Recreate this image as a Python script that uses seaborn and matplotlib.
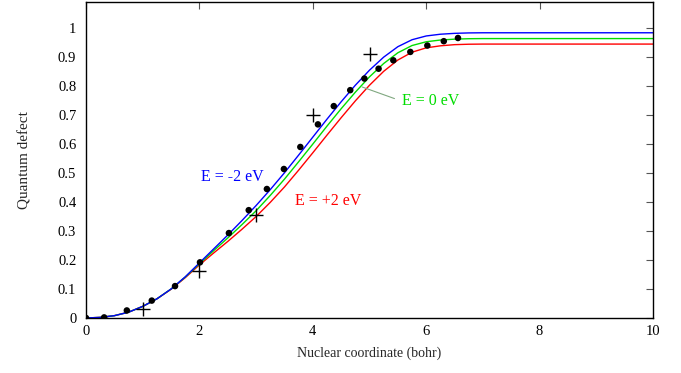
import matplotlib
matplotlib.use("Agg")
import matplotlib.pyplot as plt
import seaborn as sns
import pandas as pd

# ---- data ----
curve_x = [0, 0.25, 0.5, 0.75, 1.0, 1.25, 1.5, 1.75, 2.0, 2.25, 2.5, 2.75, 3.0,
           3.25, 3.5, 3.75, 4.0, 4.25, 4.5, 4.75, 5.0, 5.25, 5.5, 5.75, 6.0,
           6.25, 6.5, 6.75, 7.0, 8.0, 9.0, 10.0]
blue_y = [0, 0.002, 0.008, 0.020, 0.040, 0.066, 0.100, 0.142, 0.190, 0.238, 0.286,
          0.336, 0.388, 0.443, 0.501, 0.562, 0.624, 0.686, 0.746, 0.803, 0.855,
          0.900, 0.936, 0.960, 0.973, 0.979, 0.982, 0.9835, 0.984, 0.984, 0.984, 0.984]
green_y = [0, 0.002, 0.008, 0.020, 0.040, 0.066, 0.100, 0.141, 0.187, 0.232, 0.276,
           0.322, 0.370, 0.423, 0.479, 0.539, 0.600, 0.662, 0.722, 0.779, 0.832,
           0.878, 0.915, 0.940, 0.953, 0.959, 0.962, 0.9635, 0.964, 0.964, 0.964, 0.964]
red_y = [0, 0.002, 0.008, 0.020, 0.040, 0.066, 0.099, 0.139, 0.183, 0.224, 0.264,
         0.306, 0.350, 0.399, 0.452, 0.510, 0.570, 0.631, 0.691, 0.749, 0.803,
         0.851, 0.890, 0.917, 0.932, 0.939, 0.943, 0.9445, 0.945, 0.945, 0.945, 0.945]

dots_x = [0, 0.32, 0.72, 1.16, 1.57, 2.01, 2.52, 2.87, 3.19, 3.49, 3.78, 4.09,
          4.37, 4.66, 4.91, 5.16, 5.42, 5.72, 6.02, 6.31, 6.56]
dots_y = [0, 0.002, 0.026, 0.06, 0.11, 0.192, 0.293, 0.372, 0.445, 0.514, 0.59,
          0.668, 0.731, 0.786, 0.826, 0.86, 0.889, 0.918, 0.94, 0.955, 0.966]

cross_x = [1, 2, 3, 4, 5]
cross_y = [0.03, 0.163, 0.355, 0.70, 0.912]

xticks = [0, 2, 4, 6, 8, 10]
yticks = [0, 0.1, 0.2, 0.3, 0.4, 0.5, 0.6, 0.7, 0.8, 0.9, 1]
ytick_labels = ["0", "0.1", "0.2", "0.3", "0.4", "0.5", "0.6", "0.7", "0.8", "0.9", "1"]

BLUE = "#0000ff"
GREEN = "#00dd00"
RED = "#ff0000"

sns.set_theme(style="white")
plt.rcParams["font.family"] = ["Liberation Serif", "DejaVu Serif"]

fig = plt.figure(figsize=(6.81, 3.73), dpi=100)
ax = fig.add_axes([0.1263, 0.1475, 0.8326, 0.847])

df = pd.DataFrame({"x": curve_x * 3,
                   "y": blue_y + green_y + red_y,
                   "E": ["-2"] * len(curve_x) + ["0"] * len(curve_x) + ["+2"] * len(curve_x)})
sns.lineplot(data=df, x="x", y="y", hue="E", palette={"-2": BLUE, "0": GREEN, "+2": RED},
             hue_order=["+2", "0", "-2"], linewidth=1.0, legend=False, ax=ax, sort=False)

sns.scatterplot(x=dots_x, y=dots_y, color="black", s=22, edgecolor="none", ax=ax, zorder=5)
sns.scatterplot(x=cross_x, y=cross_y, color="black", marker="+", s=110, linewidth=1.0,
                ax=ax, zorder=5)

ax.text(2.58, 0.486, "E = -2 eV", color=BLUE, fontsize=11.5, ha="center", va="center")
ax.text(4.27, 0.403, "E = +2 eV", color=RED, fontsize=11.5, ha="center", va="center")
ax.text(6.07, 0.748, "E = 0 eV", color=GREEN, fontsize=11.5, ha="center", va="center")
ax.plot([4.87, 5.44], [0.797, 0.757], color="#80a880", linewidth=0.8)

ax.set_xlim(0, 10)
ax.set_ylim(0, 1.09)
ax.set_xticks(xticks)
ax.set_xticklabels([str(t) for t in xticks])
ax.set_yticks(yticks)
ax.set_yticklabels(ytick_labels)
ax.tick_params(direction="in", length=5, width=0.8, color="#555555", labelsize=10.5,
               top=True, right=True, labelcolor="black")
ax.tick_params(axis="y", pad=7)
ax.tick_params(axis="x", pad=5)
for sp in ax.spines.values():
    sp.set_color("black")
    sp.set_linewidth(1.0)
ax.set_xlabel("Nuclear coordinate (bohr)", fontsize=10, labelpad=6)
ax.set_ylabel("Quantum defect", fontsize=11, labelpad=19)

fig.savefig("out.png", dpi=100)
